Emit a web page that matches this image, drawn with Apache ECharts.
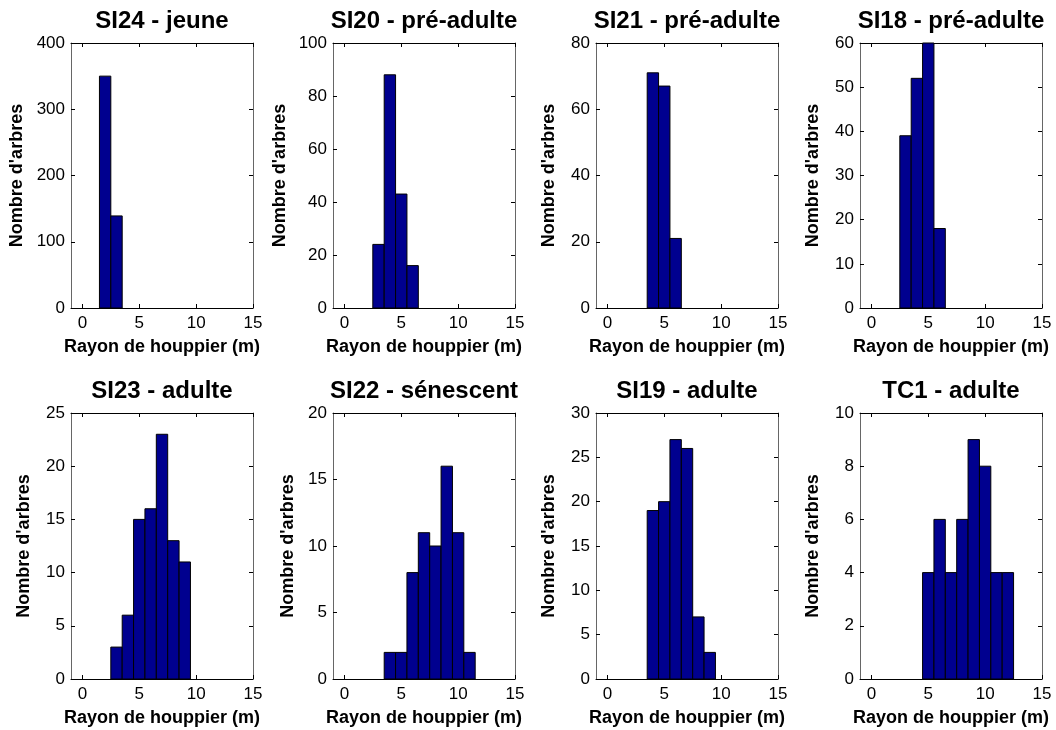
<!DOCTYPE html>
<html>
<head>
<meta charset="utf-8">
<script src="https://cdn.jsdelivr.net/npm/echarts@6/dist/echarts.min.js"></script>
<style>
  html, body { margin: 0; padding: 0; background: #fff; }
  #chart { width: 1056px; height: 730px; }
</style>
</head>
<body>
<div id="chart"></div>
<script>
// ---- Data ----
const titles = ['SI24 - jeune', 'SI20 - pré-adulte', 'SI21 - pré-adulte', 'SI18 - pré-adulte',
                'SI23 - adulte', 'SI22 - sénescent', 'SI19 - adulte', 'TC1 - adulte'];
const xTickLabels = [0, 5, 10, 15];

const si24_x = [2, 3];                 const si24_y = [350, 139];
const si20_x = [3, 4, 5, 6];           const si20_y = [24, 88, 43, 16];
const si21_x = [4, 5, 6];              const si21_y = [71, 67, 21];
const si18_x = [3, 4, 5, 6];           const si18_y = [39, 52, 60, 18];
const si23_x = [3, 4, 5, 6, 7, 8, 9];  const si23_y = [3, 6, 15, 16, 23, 13, 11];
const si22_x = [4, 5, 6, 7, 8, 9, 10, 11]; const si22_y = [2, 2, 8, 11, 10, 16, 11, 2];
const si19_x = [4, 5, 6, 7, 8, 9];     const si19_y = [19, 20, 27, 26, 7, 3];
const tc1_x  = [5, 6, 7, 8, 9, 10, 11, 12]; const tc1_y = [4, 6, 4, 6, 9, 8, 4, 4];

const yMax      = [400, 100, 80, 60, 25, 20, 30, 10];
const yInterval = [100, 20, 20, 10, 5, 5, 5, 2];

const panelsX = [si24_x, si20_x, si21_x, si18_x, si23_x, si22_x, si19_x, tc1_x];
const panelsY = [si24_y, si20_y, si21_y, si18_y, si23_y, si22_y, si19_y, tc1_y];

// ---- Layout ----
const lefts = [71, 333, 596, 860];
const gridW = 182;
const tops = [43, 413];
const heights = [265, 266];
const yNameGap = [45, 44, 38, 38, 38, 36, 38, 38];
const FONT = '"Liberation Sans", Arial, Helvetica, sans-serif';
const BAR = '#00008F';

const grids = [], xAxes = [], yAxes = [], series = [], titleArr = [];

for (let i = 0; i < 8; i++) {
  const row = Math.floor(i / 4), col = i % 4;
  grids.push({ left: lefts[col], top: tops[row], width: gridW, height: heights[row], outerBoundsMode: 'none', containLabel: false });

  titleArr.push({
    text: titles[i],
    left: lefts[col] + gridW / 2,
    top: tops[row] - 34,
    textAlign: 'center',
    padding: 0,
    textStyle: { fontFamily: FONT, fontSize: 24, fontWeight: 'bold', color: '#000' }
  });

  const tickInside = { show: true, inside: true, length: 4, lineStyle: { color: '#000', width: 1 } };
  // bottom x axis
  xAxes.push({
    gridIndex: i, type: 'value', position: 'bottom', min: -1, max: 15,
    axisLine: { show: true, onZero: false, lineStyle: { color: '#000', width: 1 } },
    axisTick: Object.assign({ customValues: xTickLabels }, tickInside),
    axisLabel: { customValues: xTickLabels, margin: 7, fontFamily: FONT, fontSize: 17, color: '#000' },
    splitLine: { show: false },
    name: 'Rayon de houppier (m)', nameLocation: 'middle', nameGap: 30,
    nameTextStyle: { fontFamily: FONT, fontSize: 18, fontWeight: 'bold', color: '#000' }
  });
  // top x axis (box)
  xAxes.push({
    gridIndex: i, type: 'value', position: 'top', min: -1, max: 15,
    axisLine: { show: true, onZero: false, lineStyle: { color: '#000', width: 1 } },
    axisTick: Object.assign({ customValues: xTickLabels }, tickInside),
    axisLabel: { show: false },
    splitLine: { show: false }
  });
  // left y axis
  yAxes.push({
    gridIndex: i, type: 'value', position: 'left', min: 0, max: yMax[i], interval: yInterval[i],
    axisLine: { show: true, onZero: false, lineStyle: { color: '#666', width: 1 } },
    axisTick: tickInside,
    axisLabel: { margin: 6, fontFamily: FONT, fontSize: 17, color: '#000' },
    splitLine: { show: false },
    name: "Nombre d'arbres", nameLocation: 'middle', nameRotate: 90, nameGap: yNameGap[i],
    nameTextStyle: { fontFamily: FONT, fontSize: 18, fontWeight: 'bold', color: '#000' }
  });
  // right y axis (box)
  yAxes.push({
    gridIndex: i, type: 'value', position: 'right', min: 0, max: yMax[i], interval: yInterval[i],
    axisLine: { show: true, onZero: false, lineStyle: { color: '#666', width: 1 } },
    axisTick: tickInside,
    axisLabel: { show: false },
    splitLine: { show: false }
  });

  const data = panelsX[i].map((x, k) => [x, panelsY[i][k]]);
  series.push({
    type: 'custom',
    xAxisIndex: 2 * i,
    yAxisIndex: 2 * i,
    data: data,
    encode: { x: 0, y: 1 },
    z: 1,
    renderItem: function (params, api) {
      const c = api.value(0), v = api.value(1);
      const p0 = api.coord([c - 0.5, 0]);
      const p1 = api.coord([c + 0.5, v]);
      return {
        type: 'rect',
        shape: { x: p0[0], y: p1[1], width: p1[0] - p0[0], height: p0[1] - p1[1] },
        style: { fill: BAR, stroke: '#000', lineWidth: 1 }
      };
    }
  });
}

const chart = echarts.init(document.getElementById('chart'), null, { renderer: 'canvas' });
chart.setOption({
  backgroundColor: '#fff',
  animation: false,
  title: titleArr,
  grid: grids,
  xAxis: xAxes,
  yAxis: yAxes,
  series: series
});
</script>
</body>
</html>
